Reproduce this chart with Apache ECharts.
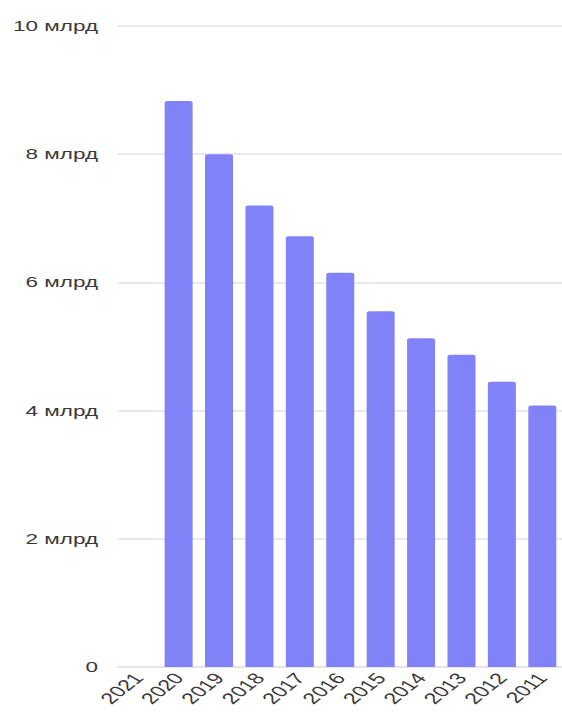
<!DOCTYPE html>
<html>
<head>
<meta charset="utf-8">
<script src="https://cdn.jsdelivr.net/npm/echarts@6/dist/echarts.min.js"></script>
<style>
  html, body { margin: 0; padding: 0; background: #fff; overflow: hidden; }
  /* The chart is laid out in a narrower box and widened horizontally,
     which gives the broad lettering of the design. */
  #chart {
    width: 374.67px;
    height: 716px;
    transform: scaleX(1.5);
    transform-origin: 0 0;
  }
</style>
</head>
<body>
<div id="chart"></div>
<script>
// Years shown on the category axis (newest first)
const years = ['2021', '2020', '2019', '2018', '2017', '2016', '2015', '2014', '2013', '2012', '2011'];
// Values in billions; 2021 has no bar
const valuesBn = [0, 8.83, 8.0, 7.2, 6.72, 6.15, 5.55, 5.13, 4.87, 4.45, 4.08];
// Y-axis ticks in billions
const yTicks = [0, 2, 4, 6, 8, 10];

const chart = echarts.init(document.getElementById('chart'), null, { renderer: 'svg' });
chart.setOption({
  animation: false,
  grid: { left: 78.67, right: 0, top: 26, bottom: 49, containLabel: false },
  xAxis: {
    type: 'category',
    data: years,
    axisLine: { show: true, lineStyle: { color: '#e3e3e8', width: 1.5 } },
    axisTick: { show: false },
    axisLabel: {
      interval: 0,
      hideOverlap: false,
      rotate: 50,
      margin: 8,
      color: '#3a3a3a',
      fontSize: 15.5,
      fontFamily: 'Liberation Sans, Arial, sans-serif'
    }
  },
  yAxis: {
    type: 'value',
    min: yTicks[0],
    max: yTicks[yTicks.length - 1],
    interval: 2,
    axisLine: { show: false },
    axisTick: { show: false },
    splitLine: { lineStyle: { color: '#e3e3e8', width: 1.5 } },
    axisLabel: {
      margin: 13.3,
      color: '#3a3a3a',
      fontSize: 15,
      fontFamily: 'Liberation Sans, Arial, sans-serif',
      formatter: v => (v === 0 ? '0' : v + ' млрд')
    }
  },
  series: [{
    type: 'bar',
    data: valuesBn,
    barWidth: 18.67,
    itemStyle: { color: '#8282f8', borderRadius: [2, 2, 0, 0] }
  }]
});
</script>
</body>
</html>
